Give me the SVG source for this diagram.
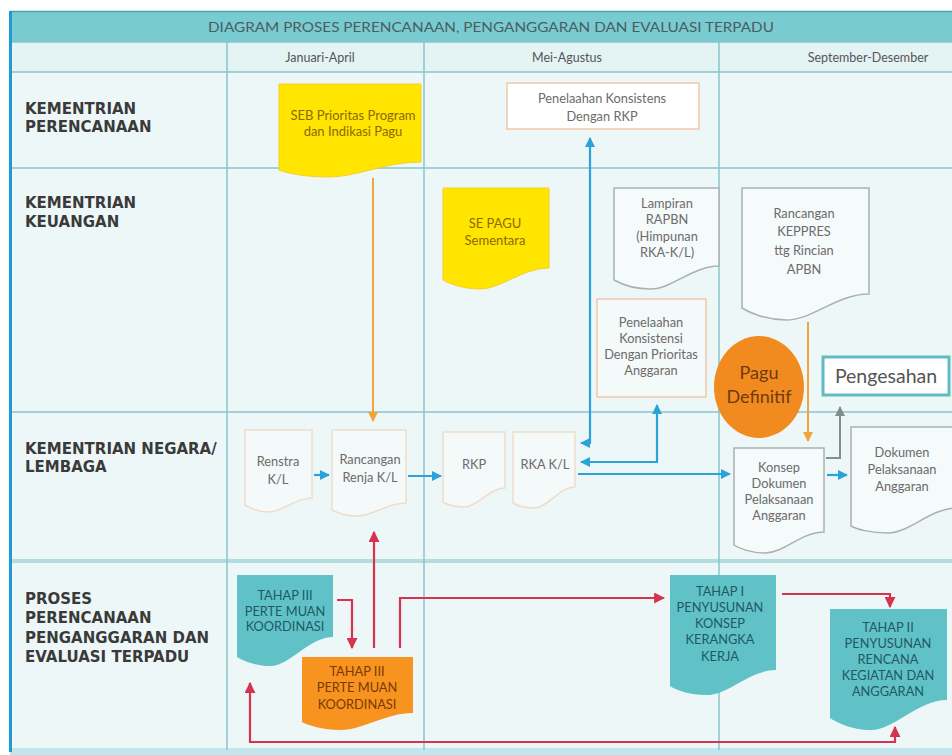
<svg xmlns="http://www.w3.org/2000/svg" width="952" height="755" viewBox="0 0 952 755">
<style>
.lbl{font-family:"DejaVu Sans",sans-serif;font-weight:bold;font-size:15px;fill:#3a3a3a}
.t{font-family:Lato,"Open Sans",sans-serif;font-size:12.8px;fill:#6b6b6b;text-anchor:middle}
.hd{font-family:Lato,sans-serif;font-size:12.5px;fill:#555;text-anchor:middle}
.ty{font-family:Lato,sans-serif;font-size:13px;fill:#8a6a00;text-anchor:middle}
.tt{font-family:Lato,sans-serif;font-size:12.8px;fill:#1f5a63;text-anchor:middle}
.to{font-family:Lato,sans-serif;font-size:12.8px;fill:#7a3a08;text-anchor:middle}
.grid{stroke:#88c6ca;stroke-width:1.5;fill:none}
.doc{fill:#f5fafa;stroke:#a9b1b1;stroke-width:1.5}
.docp{fill:#f4f9f9;stroke:#eeddc8;stroke-width:1.5}
.yel{fill:#ffe500;stroke:#f7cf2a;stroke-width:1}
.teal{fill:#60c1c7}
.orn{fill:#f7931e}
.cb{stroke:#2aa3d9;stroke-width:2.2;fill:none}
.cr{stroke:#d6334e;stroke-width:2.2;fill:none}
.co{stroke:#f2a33a;stroke-width:2;fill:none}
.cg{stroke:#7f8e8e;stroke-width:2;fill:none}
</style>
<defs>
<marker id="ab" viewBox="0 0 10 10" refX="9" refY="5" markerWidth="10" markerHeight="10" markerUnits="userSpaceOnUse" orient="auto-start-reverse"><path d="M0,0 L10,5 L0,10 Z" fill="#2aa3d9"/></marker>
<marker id="ar" viewBox="0 0 10 10" refX="9" refY="5" markerWidth="11" markerHeight="11" markerUnits="userSpaceOnUse" orient="auto-start-reverse"><path d="M0,0 L10,5 L0,10 Z" fill="#d6334e"/></marker>
<marker id="ao" viewBox="0 0 10 10" refX="9" refY="5" markerWidth="10" markerHeight="10" markerUnits="userSpaceOnUse" orient="auto-start-reverse"><path d="M0,0 L10,5 L0,10 Z" fill="#f2a33a"/></marker>
<marker id="ag" viewBox="0 0 10 10" refX="9" refY="5" markerWidth="10" markerHeight="10" markerUnits="userSpaceOnUse" orient="auto-start-reverse"><path d="M0,0 L10,5 L0,10 Z" fill="#7f8e8e"/></marker>
</defs>

<rect x="0" y="0" width="952" height="755" fill="#ffffff"/>
<g id="frame">
<rect x="10" y="11" width="942" height="740" fill="#eef7f8"/>
<rect x="10" y="12" width="942" height="30" fill="#78cbd0"/>
<rect x="10" y="42" width="942" height="30" fill="#e4f3f4"/>
<line x1="10" y1="11.5" x2="952" y2="11.5" stroke="#4aa6ad" stroke-width="1.5"/>
<rect x="10" y="748" width="942" height="7" fill="#c3e6ee"/>
<line class="grid" x1="10" y1="42" x2="952" y2="42"/>
<line class="grid" x1="10" y1="72" x2="952" y2="72"/>
<line class="grid" x1="10" y1="168" x2="952" y2="168"/>
<line class="grid" x1="10" y1="412" x2="952" y2="412"/>
<line x1="10" y1="561" x2="952" y2="561" stroke="#b3dcdf" stroke-width="4"/>
<line class="grid" x1="227" y1="42" x2="227" y2="750"/>
<line class="grid" x1="424" y1="42" x2="424" y2="750"/>
<line class="grid" x1="719" y1="42" x2="719" y2="750"/>
<line x1="10.5" y1="11" x2="10.5" y2="752" stroke="#1e9bd7" stroke-width="3"/>
<text x="491" y="32" textLength="566" lengthAdjust="spacingAndGlyphs" font-family="Lato,sans-serif" font-size="13" fill="#4b5d60" text-anchor="middle">DIAGRAM PROSES PERENCANAAN, PENGANGGARAN DAN EVALUASI TERPADU</text>
<text class="hd" x="320" y="62">Januari-April</text>
<text class="hd" x="567" y="62">Mei-Agustus</text>
<text class="hd" x="868" y="62">September-Desember</text>
<text class="lbl" x="25" y="114">KEMENTRIAN</text>
<text class="lbl" x="25" y="132">PERENCANAAN</text>
<text class="lbl" x="25" y="208">KEMENTRIAN</text>
<text class="lbl" x="25" y="227">KEUANGAN</text>
<text class="lbl" x="25" y="454">KEMENTRIAN NEGARA/</text>
<text class="lbl" x="25" y="472">LEMBAGA</text>
<text class="lbl" x="25" y="604">PROSES</text>
<text class="lbl" x="25" y="623">PERENCANAAN</text>
<text class="lbl" x="25" y="643">PENGANGGARAN DAN</text>
<text class="lbl" x="25" y="662">EVALUASI TERPADU</text>
</g>

<g id="connectors">
<path class="co" d="M373 178 V421" marker-end="url(#ao)"/>
<path class="co" d="M808 322 V441" marker-end="url(#ao)"/>
<path class="cb" d="M314 475 H329" marker-end="url(#ab)"/>
<path class="cb" d="M408 476 H441" marker-end="url(#ab)"/>
<path class="cb" d="M581 443 H590 V138" marker-start="url(#ab)" marker-end="url(#ab)"/>
<path class="cb" d="M581 462 H657 V405" marker-start="url(#ab)" marker-end="url(#ab)"/>
<path class="cb" d="M578 474 H730" marker-end="url(#ab)"/>
<path class="cb" d="M827 475 H847" marker-end="url(#ab)"/>
<path class="cg" d="M826 458 H840 V407" marker-end="url(#ag)"/>
<path class="cr" d="M337 600 H352 V648" marker-end="url(#ar)"/>
<path class="cr" d="M374 648 V532" marker-end="url(#ar)"/>
<path class="cr" d="M400 648 V598 H664" marker-end="url(#ar)"/>
<path class="cr" d="M782 594 H890 V607" marker-end="url(#ar)"/>
<path class="cr" d="M895 727 V742 H250 V683" marker-start="url(#ar)" marker-end="url(#ar)"/>
</g>

<g id="seb">
<path class="yel" d="M279 84 H421 V162 C385.5 162 357.1 177 328.7 177 C304.6 177 286.1 173 279 170 Z"/>
<text class="ty" x="353" y="120">SEB Prioritas Program</text>
<text class="ty" x="353" y="136">dan Indikasi Pagu</text>
</g>
<g id="penelaahan-rkp">
<rect x="507" y="83" width="192" height="46" fill="#ffffff" stroke="#f0c8a8" stroke-width="1.5"/>
<text class="t" x="602" y="103">Penelaahan Konsistens</text>
<text class="t" x="602" y="121">Dengan RKP</text>
</g>
<g id="se-pagu">
<path class="yel" d="M443 188 H549 V268 C522.5 268 501.3 289 480.1 289 C462.1 289 448.3 283 443 280 Z"/>
<text class="ty" x="495" y="228">SE PAGU</text>
<text class="ty" x="495" y="245">Sementara</text>
</g>
<g id="lampiran">
<path class="doc" d="M614 188 H719 V266 C692.8 266 671.8 289 650.8 289 C632.9 289 619.3 283 614 280 Z"/>
<text class="t" x="667" y="208">Lampiran</text>
<text class="t" x="667" y="224">RAPBN</text>
<text class="t" x="667" y="241">(Himpunan</text>
<text class="t" x="667" y="257">RKA-K/L)</text>
</g>
<g id="keppres">
<path class="doc" d="M742 188 H869 V294 C837.3 294 811.9 320 786.5 320 C764.9 320 748.4 312 742 308 Z"/>
<text class="t" x="804" y="218">Rancangan</text>
<text class="t" x="804" y="236">KEPPRES</text>
<text class="t" x="804" y="255">ttg Rincian</text>
<text class="t" x="804" y="274">APBN</text>
</g>
<g id="penelaahan-prioritas">
<rect x="597" y="299" width="109" height="98" fill="#f4f9f9" stroke="#f0c8a8" stroke-width="1.5"/>
<text class="t" x="651" y="327">Penelaahan</text>
<text class="t" x="651" y="343">Konsistensi</text>
<text class="t" x="651" y="359">Dengan Prioritas</text>
<text class="t" x="651" y="375">Anggaran</text>
</g>
<g id="pagu-definitif">
<ellipse cx="759" cy="387" rx="45" ry="51" fill="#f28b1f"/>
<text x="759" y="379" font-family="Lato,sans-serif" font-size="18" fill="#6e3a0e" text-anchor="middle">Pagu</text>
<text x="759" y="403" font-family="Lato,sans-serif" font-size="18" fill="#6e3a0e" text-anchor="middle">Definitif</text>
</g>
<g id="pengesahan">
<rect x="823" y="357" width="126" height="38" fill="#ffffff" stroke="#5fbcc3" stroke-width="3"/>
<text x="886" y="383" font-family="Lato,sans-serif" font-size="19.5" fill="#555" text-anchor="middle">Pengesahan</text>
</g>
<g id="renstra">
<path class="docp" d="M245 430 H312 V498 C295.3 498 281.9 512 268.5 512 C257.1 512 248.4 507 245 505 Z"/>
<text class="t" x="278" y="466">Renstra</text>
<text class="t" x="278" y="484">K/L</text>
</g>
<g id="rancangan-renja">
<path class="docp" d="M332 430 H406 V503 C387.5 503 372.7 516 357.9 516 C345.3 516 335.7 512 332 510 Z"/>
<text class="t" x="370" y="464">Rancangan</text>
<text class="t" x="370" y="482">Renja  K/L</text>
</g>
<g id="rkp">
<path class="docp" d="M443 432 H505 V488 C489.5 488 477.1 507 464.7 507 C454.2 507 446.1 504 443 502 Z"/>
<text class="t" x="474" y="469">RKP</text>
</g>
<g id="rka-kl">
<path class="docp" d="M513 432 H575 V487 C559.5 487 547.1 508 534.7 508 C524.2 508 516.1 505 513 503 Z"/>
<text class="t" x="545" y="469">RKA K/L</text>
</g>
<g id="konsep-dokumen">
<path class="doc" d="M734 448 H824 V532 C801.5 532 783.5 553 765.5 553 C750.2 553 738.5 548 734 545 Z"/>
<text class="t" x="779" y="472">Konsep</text>
<text class="t" x="779" y="488">Dokumen</text>
<text class="t" x="779" y="504">Pelaksanaan</text>
<text class="t" x="779" y="520">Anggaran</text>
</g>
<g id="dokumen-pelaksanaan">
<path class="doc" d="M851 427 H957 V508 C930.5 508 909.3 533 888.1 533 C870.1 533 856.3 529 851 526 Z"/>
<text class="t" x="902" y="457">Dokumen</text>
<text class="t" x="902" y="474">Pelaksanaan</text>
<text class="t" x="902" y="491">Anggaran</text>
</g>
<g id="tahap-iii-teal">
<path class="teal" d="M237 575 H333 V637 C309 637 289.8 666 270.6 666 C254.3 666 241.8 660 237 657 Z"/>
<text class="tt" x="285" y="600">TAHAP III</text>
<text class="tt" x="285" y="616">PERTE MUAN</text>
<text class="tt" x="285" y="631">KOORDINASI</text>
</g>
<g id="tahap-iii-orange">
<path class="orn" d="M302 657 H413 V713 C385.3 713 363.1 730 340.9 730 C322 730 307.6 725 302 722 Z"/>
<text class="to" x="357" y="676">TAHAP III</text>
<text class="to" x="357" y="692">PERTE MUAN</text>
<text class="to" x="357" y="709">KOORDINASI</text>
</g>
<g id="tahap-i">
<path class="teal" d="M670 575 H776 V670 C749.5 670 728.3 695 707.1 695 C689.1 695 675.3 690 670 686 Z"/>
<text class="tt" x="720" y="596">TAHAP I</text>
<text class="tt" x="720" y="612">PENYUSUNAN</text>
<text class="tt" x="720" y="628">KONSEP</text>
<text class="tt" x="720" y="644">KERANGKA</text>
<text class="tt" x="720" y="661">KERJA</text>
</g>
<g id="tahap-ii">
<path class="teal" d="M830 609 H947 V700 C917.8 700 894.4 730 871 730 C851.1 730 835.9 722 830 718 Z"/>
<text class="tt" x="888" y="632">TAHAP II</text>
<text class="tt" x="888" y="648">PENYUSUNAN</text>
<text class="tt" x="888" y="664">RENCANA</text>
<text class="tt" x="888" y="680">KEGIATAN DAN</text>
<text class="tt" x="888" y="696">ANGGARAN</text>
</g>
</svg>
